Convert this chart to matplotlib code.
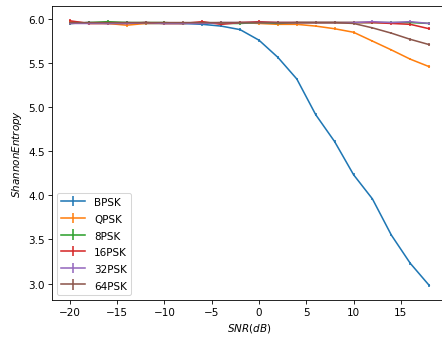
import numpy as np
import matplotlib
matplotlib.use('Agg')
import matplotlib.pyplot as plt

snr = list(range(-20, 20, 2))

bpsk = [5.95, 5.96, 5.95, 5.96, 5.95, 5.95, 5.95, 5.94, 5.92, 5.88,
        5.76, 5.565, 5.32, 4.915, 4.61, 4.235, 3.96, 3.55, 3.23, 2.98]
qpsk = [5.97, 5.95, 5.95, 5.93, 5.95, 5.95, 5.95, 5.96, 5.95, 5.96,
        5.95, 5.94, 5.94, 5.92, 5.89, 5.85, 5.75, 5.65, 5.545, 5.46]
psk8 = [5.95, 5.96, 5.97, 5.96, 5.96, 5.96, 5.95, 5.96, 5.95, 5.95,
        5.96, 5.95, 5.96, 5.96, 5.96, 5.96, 5.96, 5.96, 5.96, 5.95]
psk16 = [5.98, 5.95, 5.95, 5.95, 5.96, 5.95, 5.95, 5.97, 5.94, 5.96,
         5.97, 5.96, 5.96, 5.96, 5.96, 5.96, 5.96, 5.95, 5.94, 5.89]
psk32 = [5.95, 5.95, 5.95, 5.95, 5.96, 5.95, 5.95, 5.95, 5.96, 5.96,
         5.96, 5.96, 5.96, 5.96, 5.96, 5.96, 5.97, 5.96, 5.97, 5.95]
psk64 = [5.96, 5.96, 5.96, 5.96, 5.96, 5.96, 5.96, 5.96, 5.96, 5.96,
         5.96, 5.96, 5.96, 5.96, 5.96, 5.95, 5.90, 5.84, 5.77, 5.71]

labels = ['BPSK', 'QPSK', '8PSK', '16PSK', '32PSK', '64PSK']
series = [bpsk, qpsk, psk8, psk16, psk32, psk64]
err = 0.015

DPI = 75
fig = plt.figure(figsize=(442 / DPI, 339 / DPI), dpi=DPI)
ax = fig.add_axes([0.1176, 0.112, 0.894, 0.867])
for lab, vals in zip(labels, series):
    ax.errorbar(snr, vals, yerr=err, label=lab)

ax.set_xlabel('$SNR(dB)$')
ax.set_ylabel('$ShannonEntropy$')
ax.legend(loc='lower left', handleheight=1.05, handlelength=2.25,
          handletextpad=0.9, labelspacing=0.6)

fig.savefig('out.png', dpi=DPI)
